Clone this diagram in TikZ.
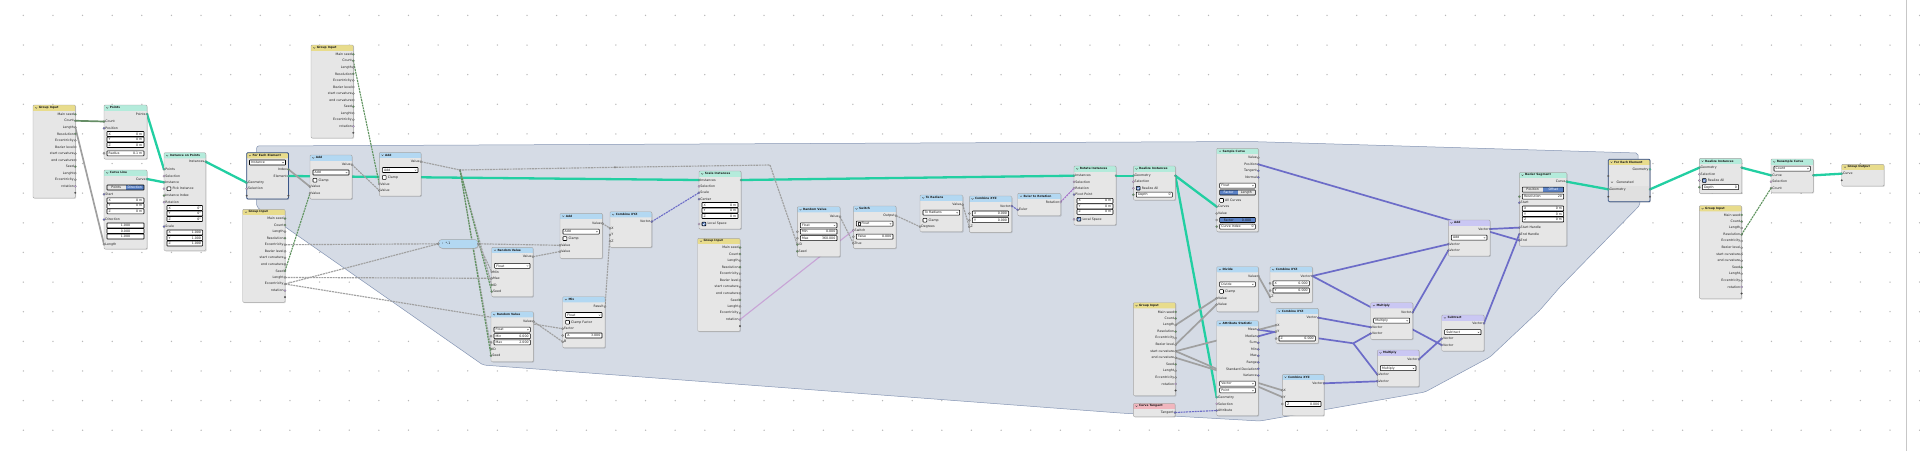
\documentclass[tikz,border=0pt]{standalone}
\usepackage{fontspec}
\newfontfamily\nf{DejaVu Sans}
\pgfdeclarelayer{bgl}
\pgfdeclarelayer{framel}
\pgfdeclarelayer{linkl}
\pgfsetlayers{bgl,framel,linkl,main}
\definecolor{nodebg}{HTML}{E6E6E6}
\definecolor{nodebd}{HTML}{A6A6A6}
\definecolor{hGI}{HTML}{E8DC8C}
\definecolor{hGeo}{HTML}{B4EBDB}
\definecolor{hUt}{HTML}{B3D8F2}
\definecolor{hVec}{HTML}{CAC7F3}
\definecolor{hTan}{HTML}{F0B6BE}
\definecolor{cGeo}{HTML}{22CFA2}
\definecolor{cFl}{HTML}{A0A0A0}
\definecolor{cInt}{HTML}{5E935E}
\definecolor{cVec}{HTML}{6C6CC8}
\definecolor{cBool}{HTML}{C8A4D6}
\definecolor{cRot}{HTML}{A570C9}
\definecolor{cRotS}{HTML}{C4A4E0}
\definecolor{cDark}{HTML}{303030}
\definecolor{frameF}{HTML}{D5DBE5}
\definecolor{frameB}{HTML}{8595B4}
\definecolor{selB}{HTML}{5B82C6}
\definecolor{feeB}{HTML}{3A5688}
\definecolor{dotc}{HTML}{B8B8B8}
\tikzset{
 nbox/.style={fill=nodebg, draw=none, rounded corners=1pt, inner sep=0pt, outer sep=0pt},
 sock/.style={circle, inner sep=0pt, minimum size=2.3pt, draw=black!55, line width=0.15pt, label distance=1.2pt},
 lbl/.style={font=\nf\fontsize{3.2}{3.6}\selectfont, inner sep=0pt, text=black!88},
 ttl/.style={font=\nf\bfseries\fontsize{2.9}{3.3}\selectfont, inner sep=0pt, text=black!90},
 fldbox/.style={fill=white, draw=black, line width=0.55pt, rounded corners=0.6pt},
 lgeo/.style={draw=cGeo, line width=2.3pt},
 lfl/.style={draw=cFl, line width=1.7pt},
 lint/.style={draw=cInt!75!gray, line width=1.7pt},
 lfld/.style={draw=cFl, line width=1.15pt, dash pattern=on 2pt off 0.8pt},
 lintd/.style={draw=cInt, line width=1.1pt, dash pattern=on 2pt off 0.8pt},
 lvec/.style={draw=cVec, line width=1.7pt},
 lvecd/.style={draw=cVec, line width=1.1pt, dash pattern=on 2pt off 0.8pt},
 lboold/.style={draw=cBool, line width=1.1pt},
 lrotd/.style={draw=cRot, line width=1.1pt, dash pattern=on 2pt off 0.8pt},
}
\newcommand\xNode[7]{%
 \fill[black,opacity=0.15,rounded corners=1pt] (#2+0.8,#3+0.8) rectangle (#2+#4+0.8,#3+#5+0.8);
 \node[nbox, minimum width=#4pt, minimum height=#5pt, anchor=north west] (#1) at (#2,#3) {};
 \fill[#6, rounded corners=1pt] (#2,#3) rectangle (#2+#4,#3+5.6);
 \fill[#6] (#2,#3+2.5) rectangle (#2+#4,#3+5.6);
 \draw[nodebd, line width=0.4pt, rounded corners=1pt] (#2,#3) rectangle (#2+#4,#3+#5);
 \draw[black!70, line width=0.3pt] (#2+2.2,#3+2.3) -- (#2+3.2,#3+3.4) -- (#2+4.2,#3+2.3);
 \node[ttl, anchor=west] at (#2+5.6,#3+2.9) {#7};
}
\newcommand\xIn[5]{\node[sock,fill=#4,label={[lbl]right:#5}] (#1) at (#2,#3) {};}
\newcommand\xOut[5]{\node[sock,fill=#4,label={[lbl]left:#5}] (#1) at (#2,#3) {};}
\newcommand\xS[4]{\node[sock,fill=#4] (#1) at (#2,#3) {};}
\newcommand\xFld[5]{%
 \draw[fldbox] (#1,#2-2.5) rectangle (#3,#2+2.5);
 \node[lbl,anchor=west] at (#1+1.5,#2) {#4};
 \node[lbl,anchor=east] at (#3-1.5,#2) {#5};}
\newcommand\xFldB[5]{%
 \draw[fldbox,fill=selB] (#1,#2-2.5) rectangle (#3,#2+2.5);
 \node[lbl,anchor=west] at (#1+4,#2) {#4};
 \node[lbl,anchor=east] at (#3-4,#2) {#5};}
\newcommand\xFldC[4]{%
 \draw[fldbox] (#1,#2-2.5) rectangle (#3,#2+2.5);
 \node[lbl] at ({(#1+#3)/2},#2) {#4};}
\newcommand\xDD[4]{%
 \draw[fldbox] (#1,#2-2.5) rectangle (#3,#2+2.5);
 \node[lbl,anchor=west] at (#1+1.5,#2) {#4};
 \draw[black!80,line width=0.25pt] (#3-3.2,#2-0.3) -- (#3-2.5,#2+0.5) -- (#3-1.8,#2-0.3);}
\newcommand\xCB[3]{%
 \draw[fldbox] (#1,#2-1.9) rectangle (#1+3.8,#2+1.9);
 \node[lbl,anchor=west] at (#1+5.3,#2) {#3};}
\newcommand\xCBV[3]{%
 \draw[fldbox,fill=selB] (#1,#2-1.9) rectangle (#1+3.8,#2+1.9);
 \draw[white,line width=0.4pt] (#1+0.8,#2) -- (#1+1.7,#2+1) -- (#1+3,#2-1.1);
 \node[lbl,anchor=west] at (#1+5.3,#2) {#3};}
\newcommand\xTGR[5]{%
 \fill[selB] ({(#1+#3)/2},#2-2.5) rectangle (#3,#2+2.5);
 \draw[fldbox,fill=none] (#1,#2-2.5) rectangle (#3,#2+2.5);
 \node[lbl] at ({(3*#1+#3)/4},#2) {#4};
 \node[lbl,text=white] at ({(#1+3*#3)/4},#2) {#5};}
\newcommand\xTGL[5]{%
 \fill[selB] (#1,#2-2.5) rectangle ({(#1+#3)/2},#2+2.5);
 \draw[fldbox,fill=none] (#1,#2-2.5) rectangle (#3,#2+2.5);
 \node[lbl,text=white] at ({(3*#1+#3)/4},#2) {#4};
 \node[lbl] at ({(#1+3*#3)/4},#2) {#5};}
\newcommand\xGI[3]{%
 \xNode{#1}{#2}{#3}{42.3}{93}{hGI}{Group Input}
 \xOut{#1-ms}{#2+42.3}{#3+9.2}{cInt}{Main seed}
 \xOut{#1-cnt}{#2+42.3}{#3+15.75}{cInt}{Count}
 \xOut{#1-len}{#2+42.3}{#3+22.3}{cFl}{Length}
 \xOut{#1-res}{#2+42.3}{#3+28.85}{cInt}{Resolution}
 \xOut{#1-ecc}{#2+42.3}{#3+35.4}{cFl}{Eccentricity}
 \xOut{#1-bez}{#2+42.3}{#3+41.95}{cFl}{Bezier level}
 \xOut{#1-sc}{#2+42.3}{#3+48.5}{cFl}{start curvature}
 \xOut{#1-ec}{#2+42.3}{#3+55.05}{cFl}{end curvature}
 \xOut{#1-seed}{#2+42.3}{#3+61.6}{cInt}{Seed}
 \xOut{#1-lgt}{#2+42.3}{#3+68.15}{cFl}{Lenght}
 \xOut{#1-ecc2}{#2+42.3}{#3+74.7}{cFl}{Eccentricity}
 \xOut{#1-rot}{#2+42.3}{#3+81.25}{cRotS}{rotation}
 \node[sock,fill=cDark,minimum size=1.8pt] (#1-e) at (#2+42.3,#3+87.8) {};
}
\begin{document}
\begin{tikzpicture}[x=1pt,y=-1pt]
\useasboundingbox (0,0) rectangle (1920,451);
\begin{pgfonlayer}{bgl}
\fill[white] (0,0) rectangle (1920,451);
\foreach \i in {0,...,64}{\foreach \j in {0,...,14}{\fill[dotc] ({23.3+29.63*\i},{15.4+29.63*\j}) circle (0.75pt);}}
\draw[black!22,line width=0.6pt] (1906,0) -- (1906,451);
\end{pgfonlayer}
\begin{pgfonlayer}{framel}
\draw[fill=frameF, draw=frameB, line width=0.5pt, rounded corners=2pt] (256.7,207) -- (256.7,146) -- (1250,141.5) -- (1638,153) -- (1640,205) -- (1560,287) -- (1540,310) -- (1490,357) -- (1425,392) -- (1260,421) -- (1120,413) -- (483,365) -- cycle;
\end{pgfonlayer}

% ---------- group inputs
\xGI{gi1}{33}{105}
\xGI{gi2}{242.7}{209.3}
\xGI{gi3}{311}{45}
\xGI{gi4}{697.7}{238.3}
\xGI{gi5}{1133.3}{302.7}
\xGI{gi6}{1699.3}{205.7}

% ---------- Points
\xNode{pts}{104}{105}{43}{54}{hGeo}{Points}
\xOut{pts-o}{147}{114}{cGeo}{Points}
\xIn{pts-cnt}{104}{121.5}{cInt}{Count}
\xIn{pts-pos}{104}{128.3}{cVec}{Position}
\xFld{107}{134}{144}{X}{0 m}
\xFld{107}{139.5}{144}{Y}{0 m}
\xFld{107}{145}{144}{Z}{0 m}
\xS{pts-rad}{104}{153.3}{cFl}
\xFld{107}{153.3}{144}{Radius}{0.1 m}

% ---------- Curve Line
\xNode{cl}{104}{170}{43}{79}{hGeo}{Curve Line}
\xOut{cl-o}{147}{179}{cGeo}{Curve}
\xTGR{107}{187.5}{144}{Points}{Direction}
\xIn{cl-st}{104}{194.3}{cVec}{Start}
\xFld{107}{200.3}{144}{X}{0 m}
\xFld{107}{205.8}{144}{Y}{0 m}
\xFld{107}{211.3}{144}{Z}{0 m}
\xIn{cl-dir}{104}{219.5}{cVec}{Direction}
\xFldC{107}{225.5}{144}{1.000}
\xFldC{107}{231}{144}{0.000}
\xFldC{107}{236.5}{144}{1.000}
\xIn{cl-len}{104}{244.3}{cFl}{Length}

% ---------- Instance on Points
\xNode{iop}{164}{152.7}{41.7}{98}{hGeo}{Instance on Points}
\xOut{iop-o}{205.7}{161.7}{cGeo}{Instances}
\xIn{iop-pts}{164}{169.3}{cGeo}{Points}
\xIn{iop-sel}{164}{176}{cBool}{Selection}
\xIn{iop-inst}{164}{182.3}{cGeo}{Instance}
\xS{iop-pick}{164}{188.7}{cBool}
\xCB{167}{188.7}{Pick Instance}
\xIn{iop-idx}{164}{195.5}{cInt}{Instance Index}
\xIn{iop-rot}{164}{202.2}{cRotS}{Rotation}
\xFld{167}{208}{202.7}{X}{0°}
\xFld{167}{213.5}{202.7}{Y}{0°}
\xFld{167}{219}{202.7}{Z}{0°}
\xIn{iop-sc}{164}{226.5}{cVec}{Scale}
\xFld{167}{232.5}{202.7}{X}{1.000}
\xFld{167}{238}{202.7}{Y}{1.000}
\xFld{167}{243.5}{202.7}{Z}{1.000}

% ---------- For Each Element (input)
\xNode{fee}{246.7}{152.7}{41.7}{46.3}{hGI}{For Each Element}
\draw[feeB, line width=0.8pt, rounded corners=1pt] (246.7,152.7) rectangle (288.4,199);
\xDD{249.5}{162.5}{285.5}{Instance}
\xOut{fee-idx}{288.4}{169.3}{cInt}{Index}
\xOut{fee-el}{288.4}{176}{cGeo}{Element}
\xIn{fee-geo}{246.7}{182.7}{cGeo}{Geometry}
\xIn{fee-sel}{246.7}{188.7}{cBool}{Selection}
\node[sock,fill=cDark,minimum size=1.8pt] (fee-e1) at (246.7,195.7) {};
\node[sock,fill=cDark,minimum size=1.8pt] (fee-e2) at (288.4,195.7) {};

% ---------- Add 1, Add 2
\xNode{ad1}{310}{155}{42}{44}{hUt}{Add}
\xOut{ad1-o}{352}{164.7}{cFl}{Value}
\xDD{313}{172.5}{349}{Add}
\xCB{313}{180.3}{Clamp}
\xIn{ad1-v1}{310}{186.7}{cFl}{Value}
\xIn{ad1-v2}{310}{193.2}{cFl}{Value}

\xNode{ad2}{379.3}{152.3}{41.7}{43.7}{hUt}{Add}
\xOut{ad2-o}{421}{161.7}{cFl}{Value}
\xDD{382.3}{170}{418}{Add}
\xCB{382.3}{177.5}{Clamp}
\xIn{ad2-v1}{379.3}{184}{cFl}{Value}
\xIn{ad2-v2}{379.3}{190.5}{cFl}{Value}

% ---------- collapsed math node
\fill[black,opacity=0.15,rounded corners=4pt] (439.1,240.1) rectangle (479.1,249.1);
\node[draw=nodebd, fill=hUt, line width=0.4pt, rounded corners=4pt, minimum width=40pt, minimum height=9pt, inner sep=0pt] (mm) at (458.3,243.8) {};
\node[lbl, anchor=west] at (442,243.8) {› \ *-1};
\xS{mm-i}{438.3}{243.8}{cFl}
\xS{mm-o}{478.3}{243.8}{cFl}

% ---------- Random Values
\xNode{rv1}{491.7}{247.3}{41.3}{49.4}{hUt}{Random Value}
\xOut{rv1-o}{533}{256.7}{cFl}{Value}
\xDD{494.7}{265.8}{530}{Float}
\xIn{rv1-min}{491.7}{271.8}{cFl}{Min}
\xIn{rv1-max}{491.7}{278.3}{cFl}{Max}
\xIn{rv1-id}{491.7}{285}{cInt}{ID}
\xIn{rv1-seed}{491.7}{291.6}{cInt}{Seed}

\xNode{rv2}{491}{311.7}{42.3}{50}{hUt}{Random Value}
\xOut{rv2-o}{533.3}{321.3}{cFl}{Value}
\xDD{494}{329.6}{530.3}{Float}
\xS{rv2-min}{491}{336.2}{cFl}
\xFld{494}{336.2}{530.3}{Min}{0.000}
\xS{rv2-max}{491}{342.4}{cFl}
\xFld{494}{342.4}{530.3}{Max}{2.000}
\xIn{rv2-id}{491}{349}{cInt}{ID}
\xIn{rv2-seed}{491}{355.6}{cInt}{Seed}

% ---------- Add 3, Mix, Combine XYZ 1
\xNode{ad3}{560}{213.3}{42.3}{45}{hUt}{Add}
\xOut{ad3-o}{602.3}{223.3}{cFl}{Value}
\xDD{563}{231.6}{599.3}{Add}
\xCB{563}{238.6}{Clamp}
\xIn{ad3-v1}{560}{245.3}{cFl}{Value}
\xIn{ad3-v2}{560}{251.5}{cFl}{Value}

\xNode{mix}{562.7}{296.7}{42.3}{51}{hUt}{Mix}
\xOut{mix-o}{605}{306.7}{cFl}{Result}
\xDD{565.7}{315}{602}{Float}
\xCB{565.7}{322.2}{Clamp Factor}
\xIn{mix-f}{562.7}{328.7}{cFl}{Factor}
\xS{mix-a}{562.7}{335.5}{cFl}
\xFld{565.7}{335.5}{602}{A}{3.000}
\xIn{mix-b}{562.7}{341.8}{cFl}{B}

\xNode{cx1}{610}{211.7}{41.7}{35.6}{hUt}{Combine XYZ}
\xOut{cx1-o}{651.7}{221.7}{cVec}{Vector}
\xIn{cx1-x}{610}{228.3}{cFl}{X}
\xIn{cx1-y}{610}{234.8}{cFl}{Y}
\xIn{cx1-z}{610}{241.2}{cFl}{Z}

% ---------- Scale Instances
\xNode{si}{699}{171}{42}{58}{hGeo}{Scale Instances}
\xS{si-o}{741}{180}{cGeo}
\xIn{si-in}{699}{180}{cGeo}{Instances}
\xIn{si-sel}{699}{186.3}{cBool}{Selection}
\xIn{si-sc}{699}{192.7}{cVec}{Scale}
\xIn{si-c}{699}{199.2}{cVec}{Center}
\xFld{702}{205}{738}{X}{0 m}
\xFld{702}{210.5}{738}{Y}{0 m}
\xFld{702}{216}{738}{Z}{0 m}
\xS{si-ls}{699}{224}{cBool}
\xCBV{702}{224}{Local Space}

% ---------- Random Value 3, Switch, To Radians, Combine XYZ 2, Euler to Rotation
\xNode{rv3}{797.3}{206.7}{42.7}{50}{hUt}{Random Value}
\xOut{rv3-o}{840}{216.7}{cFl}{Value}
\xDD{800.3}{225.3}{837}{Float}
\xS{rv3-min}{797.3}{231.7}{cFl}
\xFld{800.3}{231.7}{837}{Min}{0.000}
\xS{rv3-max}{797.3}{238.2}{cFl}
\xFld{800.3}{238.2}{837}{Max}{360.000}
\xIn{rv3-id}{797.3}{244.6}{cInt}{ID}
\xIn{rv3-seed}{797.3}{251.3}{cInt}{Seed}

\xNode{sw}{853.3}{206}{42.7}{42.3}{hUt}{Switch}
\xOut{sw-o}{896}{215.7}{cFl}{Output}
\xDD{856.3}{223.6}{893}{\hspace{3.5pt}Float}
\draw[black!80, line width=0.25pt] (857.8,222.4) rectangle (859.8,224.8);
\xIn{sw-s}{853.3}{230.3}{cBool}{Switch}
\xS{sw-f}{853.3}{236.7}{cFl}
\xFld{856.3}{236.7}{893}{False}{0.000}
\xIn{sw-t}{853.3}{243.3}{cFl}{True}

\xNode{tr}{920}{195}{42.7}{36.7}{hUt}{To Radians}
\xOut{tr-o}{962.7}{204.7}{cFl}{Value}
\xDD{923}{212.6}{959.7}{To Radians}
\xCB{923}{220.2}{Clamp}
\xIn{tr-d}{920}{226.7}{cFl}{Degrees}

\xNode{cx2}{969.3}{196}{42.4}{36.3}{hUt}{Combine XYZ}
\xOut{cx2-o}{1011.7}{206}{cVec}{Vector}
\xS{cx2-x}{969.3}{213.5}{cFl}
\xFld{972.3}{213.5}{1008.7}{X}{0.000}
\xS{cx2-y}{969.3}{220.2}{cFl}
\xFld{972.3}{220.2}{1008.7}{Y}{0.000}
\xIn{cx2-z}{969.3}{226.8}{cFl}{Z}

\xNode{etr}{1017.7}{193.3}{43}{22.4}{hUt}{Euler to Rotation}
\xOut{etr-o}{1060.7}{202}{cRotS}{Rotation}
\xIn{etr-e}{1017.7}{209.8}{cVec}{Euler}

% ---------- Rotate Instances, Realize Instances
\xNode{ri}{1074}{166}{42}{59}{hGeo}{Rotate Instances}
\xS{ri-o}{1116}{175.7}{cGeo}
\xIn{ri-in}{1074}{175.7}{cGeo}{Instances}
\xIn{ri-sel}{1074}{181.8}{cBool}{Selection}
\xIn{ri-rot}{1074}{188.2}{cRotS}{Rotation}
\xIn{ri-pp}{1074}{194.6}{cVec}{Pivot Point}
\xFld{1077}{200.8}{1113}{X}{0 m}
\xFld{1077}{206.3}{1113}{Y}{0 m}
\xFld{1077}{211.8}{1113}{Z}{0 m}
\xS{ri-ls}{1074}{219.3}{cBool}
\xCBV{1077}{219.3}{Local Space}

\xNode{rl1}{1133.3}{166}{42}{34}{hGeo}{Realize Instances}
\xS{rl1-o}{1175.3}{175.7}{cGeo}
\xIn{rl1-in}{1133.3}{175.7}{cGeo}{Geometry}
\xIn{rl1-sel}{1133.3}{181.7}{cBool}{Selection}
\xS{rl1-ra}{1133.3}{188.2}{cBool}
\xCBV{1136.3}{188.2}{Realize All}
\xS{rl1-d}{1133.3}{194.7}{cInt}
\xFld{1136.3}{194.7}{1172.3}{Depth}{0}

% ---------- Sample Curve
\xNode{sc}{1216.7}{148.3}{41.6}{83.4}{hGeo}{Sample Curve}
\xOut{sc-v}{1258.3}{157.7}{cFl}{Value}
\xOut{sc-p}{1258.3}{164.3}{cVec}{Position}
\xOut{sc-t}{1258.3}{170.8}{cVec}{Tangent}
\xOut{sc-n}{1258.3}{177.3}{cVec}{Normal}
\xDD{1219.7}{185.6}{1255.3}{Float}
\xTGL{1219.7}{192.5}{1255.3}{Factor}{Length}
\xCB{1219.7}{200.4}{All Curves}
\xIn{sc-c}{1216.7}{206.7}{cGeo}{Curves}
\xIn{sc-val}{1216.7}{213.5}{cFl}{Value}
\xS{sc-f}{1216.7}{220}{cFl}
\xFldB{1219.7}{220}{1255.3}{Factor}{0.000}
\xS{sc-ci}{1216.7}{226.6}{cInt}
\xFld{1219.7}{226.6}{1255.3}{Curve Index}{0}

% ---------- Divide, Combine XYZ 3
\xNode{dv}{1216.7}{266.7}{41.6}{45}{hUt}{Divide}
\xOut{dv-o}{1258.3}{276}{cFl}{Value}
\xDD{1219.7}{284.3}{1255.3}{Divide}
\xCB{1219.7}{291.5}{Clamp}
\xIn{dv-v1}{1216.7}{298.2}{cFl}{Value}
\xIn{dv-v2}{1216.7}{304.5}{cFl}{Value}

\xNode{cx3}{1270}{266.7}{42.3}{35.6}{hUt}{Combine XYZ}
\xOut{cx3-o}{1312.3}{276}{cVec}{Vector}
\xS{cx3-x}{1270}{283.3}{cFl}
\xFld{1273}{283.3}{1309.3}{X}{0.000}
\xS{cx3-y}{1270}{290.5}{cFl}
\xFld{1273}{290.5}{1309.3}{Y}{0.000}
\xIn{cx3-z}{1270}{296.8}{cFl}{Z}

% ---------- Attribute Statistic
\xNode{as}{1216.7}{320.7}{41.6}{95}{hUt}{Attribute Statistic}
\xOut{as-mean}{1258.3}{329.7}{cVec}{Mean}
\xOut{as-med}{1258.3}{336.3}{cVec}{Median}
\xOut{as-sum}{1258.3}{342.8}{cVec}{Sum}
\xOut{as-min}{1258.3}{349.3}{cVec}{Min}
\xOut{as-max}{1258.3}{355.8}{cVec}{Max}
\xOut{as-rng}{1258.3}{362.3}{cVec}{Range}
\xOut{as-sd}{1258.3}{368.8}{cVec}{Standard Deviation}
\xOut{as-var}{1258.3}{375.5}{cVec}{Variance}
\xDD{1219.7}{383.6}{1255.3}{Vector}
\xDD{1219.7}{390.4}{1255.3}{Point}
\xIn{as-geo}{1216.7}{397.2}{cGeo}{Geometry}
\xIn{as-sel}{1216.7}{403.8}{cBool}{Selection}
\xIn{as-attr}{1216.7}{410.5}{cVec}{Attribute}

% ---------- Combine XYZ 4, 5
\xNode{cx4}{1276}{308.3}{42.3}{35}{hUt}{Combine XYZ}
\xOut{cx4-o}{1318.3}{317.7}{cVec}{Vector}
\xIn{cx4-x}{1276}{325.2}{cFl}{X}
\xIn{cx4-y}{1276}{331.5}{cFl}{Y}
\xS{cx4-z}{1276}{338.5}{cFl}
\xFld{1279}{338.5}{1315.3}{Z}{0.000}

\xNode{cx5}{1282.3}{374.3}{41.7}{41.4}{hUt}{Combine XYZ}
\xOut{cx5-o}{1324}{383.3}{cVec}{Vector}
\xIn{cx5-x}{1282.3}{390.3}{cFl}{X}
\xIn{cx5-y}{1282.3}{397}{cFl}{Y}
\xS{cx5-z}{1282.3}{404}{cFl}
\xFld{1285.3}{404}{1321}{Z}{0.000}

% ---------- Curve Tangent
\xNode{ct}{1133.3}{403.3}{41.7}{13.4}{hTan}{Curve Tangent}
\xOut{ct-o}{1175}{412.5}{cVec}{Tangent}

% ---------- vector math
\xNode{mu1}{1370.7}{302.7}{42}{36.6}{hVec}{Multiply}
\xOut{mu1-o}{1412.7}{312.3}{cVec}{Vector}
\xDD{1373.7}{320.6}{1409.7}{Multiply}
\xIn{mu1-v1}{1370.7}{327.2}{cVec}{Vector}
\xIn{mu1-v2}{1370.7}{333.5}{cVec}{Vector}

\xNode{mu2}{1377.3}{350}{41.7}{36.7}{hVec}{Multiply}
\xOut{mu2-o}{1419}{359.3}{cVec}{Vector}
\xDD{1380.3}{368.2}{1416}{Multiply}
\xIn{mu2-v1}{1377.3}{374.5}{cVec}{Vector}
\xIn{mu2-v2}{1377.3}{381.3}{cVec}{Vector}

\xNode{sb}{1441.7}{315}{42.3}{36}{hVec}{Subtract}
\xOut{sb-o}{1484}{323.3}{cVec}{Vector}
\xDD{1444.7}{332.2}{1481}{Subtract}
\xIn{sb-v1}{1441.7}{338.7}{cVec}{Vector}
\xIn{sb-v2}{1441.7}{345}{cVec}{Vector}

\xNode{av}{1448.3}{220}{41.7}{36}{hVec}{Add}
\xOut{av-o}{1490}{229}{cVec}{Vector}
\xDD{1451.3}{237.6}{1487}{Add}
\xIn{av-v1}{1448.3}{244.2}{cVec}{Vector}
\xIn{av-v2}{1448.3}{250.5}{cVec}{Vector}

% ---------- Bezier Segment
\xNode{bz}{1519.3}{172.3}{47.4}{73.7}{hGeo}{Bezier Segment}
\xOut{bz-o}{1566.7}{181.7}{cGeo}{Curve}
\xTGR{1522.3}{189.6}{1563.7}{Position}{Offset}
\xS{bz-res}{1519.3}{196.6}{cInt}
\xFld{1522.3}{196.6}{1563.7}{Resolution}{20}
\xIn{bz-st}{1519.3}{202.7}{cVec}{Start}
\xFld{1522.3}{208.5}{1563.7}{X}{0 m}
\xFld{1522.3}{214}{1563.7}{Y}{0 m}
\xFld{1522.3}{219.5}{1563.7}{Z}{0 m}
\xIn{bz-sh}{1519.3}{227.6}{cVec}{Start Handle}
\xIn{bz-eh}{1519.3}{234.2}{cVec}{End Handle}
\xIn{bz-end}{1519.3}{240.4}{cVec}{End}

% ---------- For Each Element (output)
\xNode{fe2}{1608.3}{159.3}{41.7}{42.4}{hGI}{For Each Element}
\fill[black!12] (1608.3,185.5) rectangle (1650,200.6);
\draw[feeB, line width=0.8pt, rounded corners=1pt] (1608.3,159.3) rectangle (1650,201.7);
\xOut{fe2-g}{1650}{169.3}{cGeo}{Geometry}
\node[sock,fill=cDark,minimum size=1.8pt] (fe2-d1) at (1608.3,176) {};
\draw[black!70, line width=0.3pt] (1611,181.6) -- (1612,182.7) -- (1613,181.6);
\node[lbl, anchor=west] (fe2-gen) at (1616.5,182.3) {Generated};
\xIn{fe2-gi}{1608.3}{189.3}{cGeo}{Geometry}
\xS{fe2-go}{1650}{189.3}{cGeo}
\node[sock,fill=cDark,minimum size=1.8pt] (fe2-d2) at (1608.3,196.7) {};
\node[sock,fill=cDark,minimum size=1.8pt] (fe2-d3) at (1650,196.7) {};

% ---------- Realize Instances 2, Resample Curve, Group Output
\xNode{rl2}{1699.3}{158.3}{42.4}{35}{hGeo}{Realize Instances}
\xS{rl2-o}{1741.7}{167.7}{cGeo}
\xIn{rl2-in}{1699.3}{167.7}{cGeo}{Geometry}
\xIn{rl2-sel}{1699.3}{174.2}{cBool}{Selection}
\xS{rl2-ra}{1699.3}{180.5}{cBool}
\xCBV{1702.3}{180.5}{Realize All}
\xS{rl2-d}{1699.3}{187.2}{cInt}
\xFld{1702.3}{187.2}{1738.7}{Depth}{0}

\xNode{rs}{1771}{159}{42.3}{33.7}{hGeo}{Resample Curve}
\xDD{1774}{168.6}{1810.3}{Count}
\xS{rs-o}{1813.3}{175.3}{cGeo}
\xIn{rs-c}{1771}{175.3}{cGeo}{Curve}
\xIn{rs-sel}{1771}{181.7}{cBool}{Selection}
\xIn{rs-cnt}{1771}{188.2}{cInt}{Count}

\xNode{go}{1841.7}{164.3}{42.3}{21.7}{hGI}{Group Output}
\xIn{go-c}{1841.7}{173.7}{cGeo}{Curve}
\node[sock,fill=cDark,minimum size=1.8pt] (go-d) at (1841.7,180.3) {};

% ---------- reroutes
\node[sock, fill=cFl, minimum size=1.8pt] (r1) at (460,170) {};
\node[sock, fill=cFl, minimum size=1.8pt] (r2) at (615,167.3) {};
\coordinate (r3) at (770,165);
\coordinate (r4) at (1353.3,343.3);

% ---------- links
\begin{pgfonlayer}{linkl}
\draw[lgeo] (pts-o.center) -- (iop-pts.center);
\draw[lgeo] (cl-o.center) -- (iop-inst.center);
\draw[lgeo] (iop-o.center) -- (fee-geo.center);
\draw[lgeo] (fee-el.center) -- (si-in.center);
\draw[lgeo] (si-o.center) -- (ri-in.center);
\draw[lgeo] (ri-o.center) -- (rl1-in.center);
\draw[lgeo] (rl1-o.center) -- (sc-c.center);
\draw[lgeo] (rl1-o.center) -- (as-geo.center);
\draw[lgeo] (bz-o.center) -- (fe2-gi.center);
\draw[lgeo] (fe2-go.center) -- (rl2-in.center);
\draw[lgeo] (rl2-o.center) -- (rs-c.center);
\draw[lgeo] (rs-o.center) -- (go-c.center);
\draw[lint] (gi1-cnt.center) -- (pts-cnt.center);
\draw[lfl] (gi1-len.center) -- (cl-len.center);
\draw[lfl] (fee-idx.center) -- (ad1-v1.center);
\draw[lintd] (gi3-cnt.center) -- (ad2-v1.center);
\draw[lfld] (ad1-o.center) -- (ad2-v2.center);
\draw[lintd] (gi2-seed.center) -- (ad1-v2.center);
\draw[lfld] (ad2-o.center) -- (r1.center) -- (r2.center) -- (r3) -- (rv3-id.center);
\draw[lfld] (r1.center) -- (rv1-id.center);
\draw[lfld] (r1.center) -- (rv2-id.center);
\draw[lintd] (r1.center) -- (rv1-seed.center);
\draw[lintd] (r1.center) -- (rv2-seed.center);
\draw[lfld] (gi2-ecc.center) -- (mm-i.center);
\draw[lfld] (mm-o.center) -- (ad3-v1.center);
\draw[lfld] (mm-o.center) -- (rv1-min.center);
\draw[lfld] (gi2-ecc2.center) -- (mm-i.center);
\draw[lfld] (gi2-lgt.center) -- (rv1-max.center);
\draw[lfld] (gi2-ecc2.center) -- (mix-f.center);
\draw[lfld] (rv2-o.center) -- (mix-b.center);
\draw[lfld] (rv1-o.center) -- (ad3-v2.center);
\draw[lfld] (ad3-o.center) -- (cx1-x.center);
\draw[lfld] (mix-o.center) -- (cx1-y.center);
\draw[lvecd] (cx1-o.center) -- (si-sc.center);
\draw[lboold] (gi4-rot.center) -- (sw-s.center);
\draw[lfld] (rv3-o.center) -- (sw-t.center);
\draw[lfld] (sw-o.center) -- (tr-d.center);
\draw[lfld] (tr-o.center) -- (cx2-z.center);
\draw[lvecd] (cx2-o.center) -- (etr-e.center);
\draw[lrotd] (etr-o.center) -- (ri-rot.center);
\draw[lvec] (sc-p.center) -- (bz-end.center);
\draw[lvec] (cx3-o.center) -- (av-v1.center);
\draw[lvec] (cx3-o.center) -- (sb-v2.center);
\draw[lvec] (mu1-o.center) -- (av-v2.center);
\draw[lvec] (cx4-o.center) -- (mu1-v1.center);
\draw[lvec] (as-mean.center) -- (r4) -- (mu1-v2.center);
\draw[lvec] (r4) -- (mu2-v1.center);
\draw[lvec] (as-med.center) -- (cx4-y.center);
\draw[lvec] (cx5-o.center) -- (mu2-v2.center);
\draw[lvec] (mu2-o.center) -- (sb-v1.center);
\draw[lvec] (av-o.center) -- (bz-sh.center);
\draw[lvec] (sb-o.center) -- (bz-eh.center);
\draw[lfl] (gi5-len.center) -- (dv-v1.center);
\draw[lfl] (gi5-bez.center) -- (dv-v2.center);
\draw[lfl] (dv-o.center) -- (cx3-z.center);
\draw[lfl] (gi5-sc.center) -- (cx4-x.center);
\draw[lfl] (gi5-sc.center) -- (cx5-y.center);
\draw[lfl] (gi5-ec.center) -- (cx5-x.center);
\draw[lvecd] (ct-o.center) -- (as-attr.center);
\draw[lintd] (gi6-res.center) -- (rs-cnt.center);
\end{pgfonlayer}
\end{tikzpicture}
\end{document}
